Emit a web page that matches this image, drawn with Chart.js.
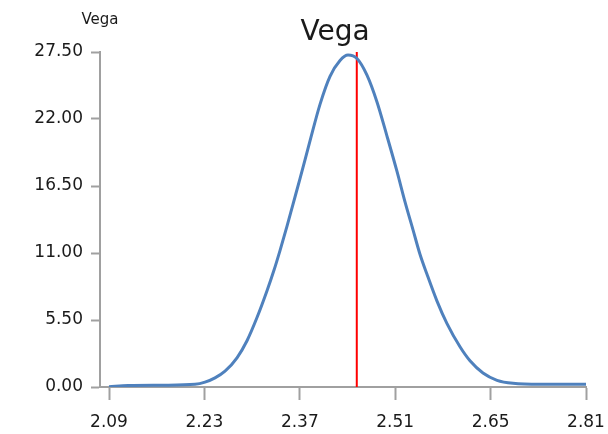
<!DOCTYPE html>
<html>
<head>
<meta charset="utf-8">
<script src="https://cdn.jsdelivr.net/npm/chart.js@4"></script>
<style>
  html, body { margin: 0; padding: 0; background: #fff; }
  #holder { width: 608px; height: 434px; }
</style>
</head>
<body>
<div id="holder"><canvas id="vega" width="608" height="434"></canvas></div>
<script>
// values
let spot = [2.0900, 2.1187, 2.1745, 2.2198, 2.2349, 2.2500, 2.2651, 2.2832, 2.2983, 2.3134, 2.3285,
    2.3391, 2.3481, 2.3587, 2.3677, 2.3783, 2.3934, 2.4085, 2.4236, 2.4387, 2.4508, 2.4643, 2.4794,
    2.4945, 2.5096, 2.5247, 2.5368, 2.5489, 2.5594, 2.5700, 2.5851, 2.6002, 2.6198, 2.6349, 2.6545,
    2.6757, 2.6998, 2.7406, 2.8130]
let vega = [0.03, 0.13, 0.15, 0.22, 0.4, 0.75, 1.3, 2.4, 3.8, 5.7, 7.9,
    9.6, 11.2, 13.2, 15.0, 17.1, 20.2, 23.2, 25.5, 26.8, 27.25, 26.97, 25.6,
    23.4, 20.6, 17.7, 15.2, 12.9, 10.9, 9.25, 7.05, 5.2, 3.3, 2.15, 1.15,
    0.55, 0.3, 0.22, 0.22]
let currentSpot = 2.464
let xTickValues = [2.09, 2.234, 2.378, 2.522, 2.666, 2.81]
let xTickLabels = ["2.09", "2.23", "2.37", "2.51", "2.65", "2.81"]
let yTicks = [0, 5.5, 11, 16.5, 22, 27.5]

let axisGray = "#a0a0a0"
let textColor = "#1a1a1a"

let titles = {
    id: "titles",
    afterDraw(chart) {
        let ctx = chart.ctx
        ctx.save()
        ctx.fillStyle = textColor
        ctx.textAlign = "center"
        ctx.textBaseline = "alphabetic"
        ctx.font = "28px 'DejaVu Sans'"
        ctx.fillText("Vega", 335, 40)
        ctx.font = "15px 'DejaVu Sans'"
        ctx.fillText("Vega", 100, 24)
        ctx.restore()
    }
}

let chart = new Chart(
    document.querySelector("#vega"),
    {
        type: "line",
        data: {
            datasets: [
                {
                    label: "Vega",
                    data: spot.map(function(x, i){
                        return {x: x, y: vega[i]}
                    }),
                    borderColor: "#4f81bd",
                    borderWidth: 3,
                    pointRadius: 0,
                    cubicInterpolationMode: "monotone",
                    fill: false
                },
                {
                    label: "Spot",
                    data: [{x: currentSpot, y: 0}, {x: currentSpot, y: 27.5}],
                    borderColor: "#ff0000",
                    borderWidth: 2,
                    pointRadius: 0,
                    fill: false
                }
            ]
        },
        options: {
            responsive: false,
            animation: false,
            layout: {padding: {top: 52, right: 22, left: 0, bottom: 0}},
            plugins: {
                legend: {display: false},
                tooltip: {enabled: false}
            },
            scales: {
                x: {
                    type: "linear",
                    min: 2.0764,
                    max: 2.81,
                    afterBuildTicks(scale) {
                        scale.ticks = xTickValues.map(function(v){ return {value: v} })
                    },
                    afterFit(scale) {
                        scale.height = 47
                        scale.paddingLeft = 0
                        scale.paddingRight = 0
                    },
                    ticks: {
                        autoSkip: false,
                        maxRotation: 0,
                        padding: 12,
                        color: textColor,
                        font: {family: "DejaVu Sans", size: 17},
                        callback: function(v, i){ return xTickLabels[i] }
                    },
                    grid: {drawOnChartArea: false, color: axisGray, tickLength: 13, tickWidth: 2},
                    border: {color: axisGray, width: 2}
                },
                y: {
                    min: 0,
                    max: 27.5,
                    afterBuildTicks(scale) {
                        scale.ticks = yTicks.map(function(v){ return {value: v} })
                    },
                    afterFit(scale) {
                        scale.width = 100
                        scale.paddingTop = 0
                        scale.paddingBottom = 0
                    },
                    ticks: {
                        padding: 8,
                        color: textColor,
                        font: {family: "DejaVu Sans", size: 17},
                        callback: function(v){ return Number(v).toFixed(2) }
                    },
                    grid: {drawOnChartArea: false, color: axisGray, tickLength: 9, tickWidth: 2},
                    border: {color: axisGray, width: 2}
                }
            }
        },
        plugins: [titles]
    }
)
</script>
</body>
</html>
